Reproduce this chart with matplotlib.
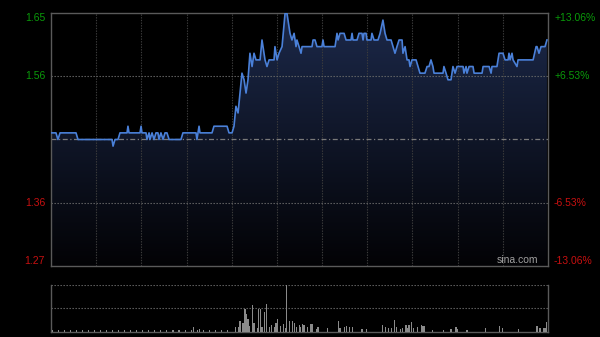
import matplotlib
matplotlib.use("Agg")
import matplotlib.pyplot as plt
import numpy as np
from matplotlib.patches import Polygon

# ---------------- data ----------------
prev_close = 1.46
pct_range = 0.1306

# minutes since open (0..330) and price
times = [0, 3.3, 4.6, 6.0, 16.6, 17.9, 40.5, 41.2, 42.5, 44.5, 45.8, 50.5, 51.1, 51.8,
         59.1, 59.8, 60.4, 63.1, 63.7, 65.1, 65.7, 67.1, 68.4, 69.7, 71.0, 71.7, 73.0,
         74.4, 75.7, 77.0, 78.4, 86.3, 87.6, 96.3, 96.9, 97.6, 98.3, 98.9, 106.9, 108.2,
         116.9, 118.2, 120.2, 121.5, 122.8, 124.2, 125.5, 126.8, 128.2, 129.5, 130.8,
         132.1, 133.5, 134.8, 136.1, 138.8, 140.1, 142.1, 143.4, 144.8, 146.7, 148.1,
         148.7, 150.1, 151.4, 153.4, 155.4, 156.7, 158.7, 160.0, 161.4, 162.7, 163.3,
         164.7, 166.0, 166.7, 173.3, 174.0, 175.3, 176.6, 179.9, 180.6, 181.3, 188.6,
         189.9, 190.6, 191.9, 194.6, 195.9, 199.2, 199.9, 200.5, 203.2, 204.5, 206.5,
         207.2, 207.8, 209.2, 209.8, 212.5, 213.1, 214.5, 217.1, 218.5, 220.4, 221.8,
         223.1, 225.8, 227.1, 228.4, 229.7, 231.1, 233.1, 233.7, 235.1, 236.4, 237.7,
         238.4, 239.7, 242.4, 243.7, 245.0, 248.3, 249.7, 251.0, 252.3, 253.6, 254.3,
         260.3, 260.9, 262.3, 263.6, 265.6, 266.9, 268.3, 269.6, 273.6, 274.2, 275.6,
         276.2, 277.6, 280.2, 280.9, 286.2, 286.9, 290.9, 292.2, 292.8, 296.1, 297.5,
         300.1, 301.5, 303.5, 304.1, 304.8, 306.1, 306.8, 309.4, 310.1, 320.1, 322.1,
         322.7, 324.0, 325.4, 328.0, 329.3]
prices = [1.47, 1.47, 1.46, 1.47, 1.47, 1.46, 1.46, 1.45, 1.46, 1.46, 1.47, 1.47, 1.48, 1.47,
          1.47, 1.48, 1.47, 1.47, 1.46, 1.47, 1.46, 1.47, 1.46, 1.47, 1.47, 1.46, 1.47,
          1.46, 1.47, 1.47, 1.46, 1.46, 1.47, 1.47, 1.46, 1.47, 1.48, 1.47, 1.47, 1.48,
          1.48, 1.47, 1.47, 1.48, 1.51, 1.50, 1.53, 1.56, 1.55, 1.53, 1.55,
          1.59, 1.57, 1.59, 1.58, 1.58, 1.61, 1.58, 1.57, 1.58, 1.58, 1.58,
          1.60, 1.58, 1.59, 1.60, 1.65, 1.65, 1.62, 1.61, 1.62, 1.60, 1.61,
          1.60, 1.59, 1.60, 1.60, 1.61, 1.61, 1.60, 1.60, 1.61, 1.60, 1.60,
          1.62, 1.61, 1.62, 1.62, 1.61, 1.61, 1.62, 1.61, 1.61, 1.62, 1.62,
          1.61, 1.62, 1.62, 1.61, 1.61, 1.62, 1.61, 1.61, 1.62, 1.64, 1.62,
          1.61, 1.61, 1.60, 1.59, 1.60, 1.61, 1.61, 1.59, 1.60, 1.58, 1.58,
          1.57, 1.58, 1.58, 1.57, 1.56, 1.56, 1.57, 1.57, 1.58, 1.57, 1.56,
          1.56, 1.57, 1.56, 1.55, 1.55, 1.57, 1.56, 1.57, 1.57, 1.56, 1.57,
          1.56, 1.57, 1.57, 1.56, 1.56, 1.57, 1.57, 1.56, 1.57, 1.57, 1.59,
          1.59, 1.58, 1.58, 1.59, 1.58, 1.59, 1.58, 1.57, 1.58, 1.58, 1.60,
          1.60, 1.59, 1.60, 1.60, 1.61]

vol_times = [1, 5, 9, 13, 17, 21, 25, 29, 33, 37, 41, 45, 49, 53, 57, 61, 65, 69, 73, 77,
             81, 85, 89, 93, 94.8, 97, 98.8, 101, 105, 109, 113, 117, 122.8, 124.8,
             125.5, 127.5, 128.8, 129.5, 130.8, 132.1, 133.5, 134.1, 134.8, 136.8, 137.5,
             138.8, 140.1, 141.5, 142.8, 143.4, 144.8, 146.7, 148.1, 149.4, 150.1, 152.1,
             154.1, 155.4, 156.1, 158.1, 160.1, 161.4, 162.7, 164.7, 165.4, 166.7, 168.0,
             170.0, 172.6, 173.3, 176.0, 177.3, 183.9, 190.6, 191.9, 194.6, 195.9, 198.5,
             199.9, 200.5, 206.5, 209.8, 220.4, 221.8, 223.8, 225.8, 227.8, 229.1, 229.7,
             231.8, 233.7, 235.7, 236.4, 237.7, 239.1, 240.4, 243.1, 245.7, 247.0, 248.3,
             253.6, 260.3, 265.6, 268.9, 269.6, 276.2, 288.2, 298.1, 300.1, 310.1, 322.7,
             324.7, 326.7, 328.0, 329.3]
volumes = [1.5, 1.2, 1.8, 1.3, 1.6, 1.2, 1.5, 1.7, 1.3, 1.5, 1.8, 1.2, 1.6, 1.4, 1.7, 1.3,
           1.5, 1.8, 1.4, 1.6, 1.3, 1.7, 1.5, 1.4, 4.5, 1.5, 3.0, 1.6, 1.3, 1.5, 1.8, 1.4,
           5.0, 5.0, 11, 8.3, 23, 18, 13, 5.7, 15, 27, 8.3, 3.3, 23, 23, 5.0, 20, 27.7,
           11.7, 5.0, 6.7, 5.0, 8.3, 13, 5.7, 7.7, 3.3, 46.7, 11, 11, 8.3, 5.0, 6.7, 5.0,
           7.7, 6.7, 5.0, 7.7, 7.7, 3.0, 4.3, 3.3, 11, 3.3, 4.3, 5.7, 5.0, 4.3, 3.3, 2.3,
           2.3, 6.7, 5.0, 3.3, 3.3, 11.7, 4.3, 4.3, 2.3, 3.3, 6.7, 3.3, 6.7, 10, 3.3,
           4.3, 6.7, 5.7, 5.7, 1.7, 1.7, 2.3, 4.3, 2.3, 1.7, 3.3, 5.7, 3.3, 2.3, 5.7, 3.3,
           3.3, 3.3, 10]

left_labels = ["1.65", "1.56", "1.36", "1.27"]
right_labels = ["+13.06%", "+6.53%", "-6.53%", "-13.06%"]
label_pcts = [pct_range, pct_range / 2, -pct_range / 2, -pct_range]

# ---------------- style ----------------
plt.rcParams['font.family'] = ['Liberation Sans', 'DejaVu Sans']
BG = 'black'
GREEN = '#0a9a0a'
RED = '#c81010'
LINE = '#4a80d8'
BORDER = '#5a5a5a'

fig = plt.figure(figsize=(6.0, 3.37), dpi=100, facecolor=BG)
ax = fig.add_axes([51 / 600, 71 / 337, 497 / 600, 253 / 337], facecolor=BG)
vax = fig.add_axes([51 / 600, 5.5 / 337, 497 / 600, 46.5 / 337], facecolor=BG)

ymin = prev_close * (1 - pct_range)
ymax = prev_close * (1 + pct_range)
ax.set_xlim(0, 330)
ax.set_ylim(ymin, ymax)

# gradient fill under the line
grad = np.linspace(0, 1, 256).reshape(-1, 1)
top_c = np.array([0.11, 0.16, 0.29])
bot_c = np.array([0.01, 0.01, 0.02])
img = top_c * (1 - grad[..., None]) + bot_c * grad[..., None]
img = img.reshape(256, 1, 3)
im = ax.imshow(img, extent=[0, 330, ymin, ymax], aspect='auto', origin='upper', zorder=1)
poly_pts = [(times[0], ymin)] + list(zip(times, prices)) + [(times[-1], ymin)]
poly = Polygon(poly_pts, closed=True, facecolor='none', edgecolor='none')
ax.add_patch(poly)
im.set_clip_path(poly)

# grid
for t in range(30, 330, 30):
    ax.axvline(t, color='#3c3c3c', lw=0.8, ls=(0, (1.2, 1.2)), zorder=2)
for p in [prev_close * (1 + pct_range / 2), prev_close * (1 - pct_range / 2)]:
    ax.axhline(p, color='#6a6a6a', lw=0.8, ls=(0, (1.2, 1.5)), zorder=2)
ax.axhline(prev_close, color='#7a7a7a', lw=0.9, ls=(0, (4, 2, 1, 2)), zorder=2)

ax.plot(times, prices, color=LINE, lw=1.2, zorder=3)

for s in ax.spines.values():
    s.set_color(BORDER)
    s.set_linewidth(1.0)
ax.set_xticks([])
ax.set_yticks([])

# axis labels
for lab, pc in zip(left_labels, label_pcts):
    val = prev_close * (1 + pc)
    col = GREEN if pc > 0 else RED
    va = 'center'
    if pc == pct_range:
        va = 'top'
    elif pc == -pct_range:
        va = 'bottom'
    ax.text(-4, val, lab, color=col, fontsize=7.5, ha='right', va=va,
            transform=ax.transData, clip_on=False)
for lab, pc in zip(right_labels, label_pcts):
    val = prev_close * (1 + pc)
    col = GREEN if pc > 0 else RED
    va = 'center'
    if pc == pct_range:
        va = 'top'
    elif pc == -pct_range:
        va = 'bottom'
    ax.text(334, val, lab, color=col, fontsize=7.5, ha='left', va=va, clip_on=False)

ax.text(0.98, 0.005, 'sina.com', color='#a0a0a0', fontsize=7.5, ha='right', va='bottom',
        transform=ax.transAxes, zorder=4)

# volume panel
vmax = max(volumes)
vax.set_xlim(0, 330)
vax.set_ylim(0, vmax)
vax.bar(vol_times, volumes, width=0.7, color='#8a8a8a', zorder=3)
for t in range(30, 330, 30):
    pass
vax.axhline(vmax, color='#6a6a6a', lw=0.8, ls=(0, (1.2, 1.5)), zorder=2)
vax.axhline(vmax / 2, color='#6a6a6a', lw=0.8, ls=(0, (1.2, 1.5)), zorder=2)
vax.spines['top'].set_visible(False)
for k in ['left', 'right', 'bottom']:
    vax.spines[k].set_color(BORDER)
    vax.spines[k].set_linewidth(1.0)
vax.set_xticks([])
vax.set_yticks([])

fig.savefig('out.png', dpi=100, facecolor=BG)
